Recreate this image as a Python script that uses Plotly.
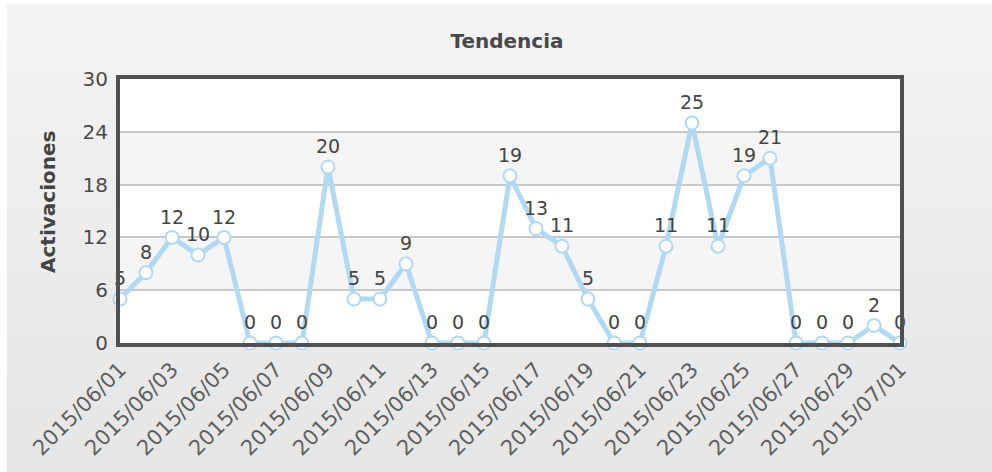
import plotly.graph_objects as go

dates = ["2015/06/%02d" % d for d in range(1, 31)] + ["2015/07/01"]
values = [5, 8, 12, 10, 12, 0, 0, 0, 20, 5, 5, 9, 0, 0, 0, 19, 13, 11, 5, 0, 0,
          11, 25, 11, 19, 21, 0, 0, 0, 2, 0]
tick_labels = dates[::2]
y_ticks = [0, 6, 12, 18, 24, 30]

W, H = 992, 472
L, R, T, B = 120, 92, 79, 129
pw, ph = W - L - R, H - T - B

def px_x(p):
    return (p - L) / pw

def px_y(p):
    return (H - B - p) / ph

shapes = []
steps = 14
c0, c1 = 243, 230
for i in range(steps):
    y0 = 4 + (H - 4) * i / steps
    y1 = 4 + (H - 4) * (i + 1) / steps
    c = round(c0 + (c1 - c0) * i / (steps - 1))
    shapes.append(dict(type="rect", xref="paper", yref="paper", layer="below",
                       x0=px_x(7), x1=px_x(W + 2), y0=px_y(y1 + 1), y1=px_y(y0),
                       fillcolor=f"rgb({c},{c},{c})", line_width=0))
for k in range(5):
    shapes.append(dict(type="rect", xref="paper", yref="y", layer="below",
                       x0=0, x1=1, y0=y_ticks[k], y1=y_ticks[k + 1],
                       fillcolor="#ffffff" if k % 2 == 0 else "#f5f5f5", line_width=0))

fig = go.Figure()
fig.add_trace(go.Scatter(
    x=dates, y=values, mode="lines+markers+text",
    text=[str(v) for v in values], textposition="top center",
    textfont=dict(family="DejaVu Sans", size=19, color="#444444"),
    line=dict(color="#b2d9f4", width=5),
    marker=dict(size=13, color="#ffffff", line=dict(color="#b2d9f4", width=2)),
    cliponaxis=False, showlegend=False,
))

fig.update_layout(
    width=W, height=H,
    margin=dict(l=L, r=R, t=T, b=B),
    paper_bgcolor="#ffffff", plot_bgcolor="#ffffff",
    shapes=shapes,
    title=dict(text="<b>Tendencia</b>", x=507 / W, xanchor="center",
               y=1 - 41 / H, yanchor="middle",
               font=dict(family="DejaVu Sans", size=20, color="#484848")),
    xaxis=dict(type="category", range=[0, len(dates) - 1], automargin=False,
               tickmode="array", tickvals=tick_labels, ticktext=tick_labels,
               tickangle=-45, showgrid=False, zeroline=False,
               showline=True, mirror=True, linecolor="#505050", linewidth=4,
               ticks="outside", ticklen=2, tickcolor="rgba(0,0,0,0)",
               tickfont=dict(family="DejaVu Sans", size=21, color="#606060")),
    yaxis=dict(range=[0, 30], tickvals=y_ticks, showgrid=True, gridcolor="#c8c8c8",
               gridwidth=1.5, zeroline=False, automargin=False,
               showline=True, mirror=True, linecolor="#505050", linewidth=4,
               ticks="outside", ticklen=4, tickcolor="rgba(0,0,0,0)",
               tickfont=dict(family="DejaVu Sans", size=20, color="#4a4a4a")),
    annotations=[dict(text="<b>Activaciones</b>", textangle=-90,
                      xref="paper", yref="paper", x=px_x(48), y=px_y(202),
                      xanchor="center", yanchor="middle", showarrow=False,
                      font=dict(family="DejaVu Sans", size=20, color="#444444"))],
)

fig.write_html("out.html", config={"displayModeBar": False},
               post_script="document.body.style.margin='0px';")
